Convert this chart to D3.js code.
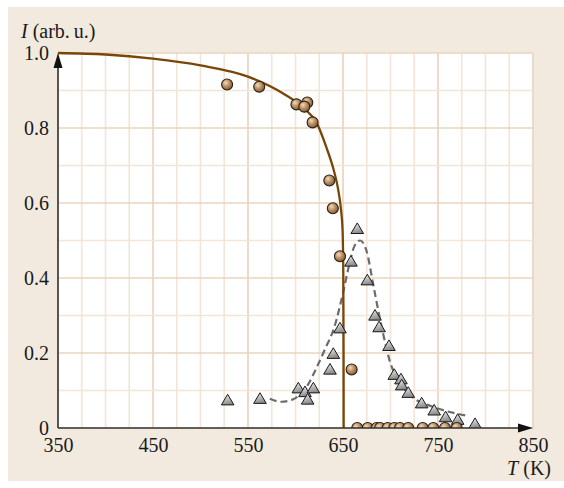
<!DOCTYPE html>
<html>
<head>
<meta charset="utf-8">
<script src="https://cdn.jsdelivr.net/npm/d3@7"></script>
<style>
  html, body { margin: 0; padding: 0; background: #ffffff; }
  svg { display: block; }
  .tick text { font-family: "Liberation Serif", "Times New Roman", serif; font-size: 20px; fill: #1a1a1a; }
</style>
</head>
<body>
<svg id="chart" width="564" height="488"></svg>
<script>
// Temperature ticks (K) and intensity ticks (arb. u.)
const xTicks = [350, 450, 550, 650, 750, 850];
const yTicks = [0, 0.2, 0.4, 0.6, 0.8, 1.0];
const xMinor = [350, 375, 400, 425, 450, 475, 500, 525, 550, 575, 600, 625, 650, 675, 700, 725, 750, 775, 800, 825, 850];
const yMinor = [0, 0.1, 0.2, 0.3, 0.4, 0.5, 0.6, 0.7, 0.8, 0.9, 1.0];

// Order-parameter data (circles)
const circleT = [528, 561.8, 601, 612.4, 609.3, 618, 635.6, 639.3, 646.8, 659.1,
                 665, 676, 685.5, 689, 697, 704, 710, 718.7, 733.9, 745, 757.4, 769.7];
const circleI = [0.916, 0.910, 0.863, 0.868, 0.857, 0.815, 0.660, 0.586, 0.458, 0.156,
                 0, 0, 0, 0, 0, 0, 0, 0, 0, 0, 0, 0];

// Fluctuation data (triangles)
const triT = [528.6, 562.6, 603, 610, 612.8, 618.8, 636.3, 639.8, 646.8, 658.4, 665, 675.6,
              683.7, 688, 698.4, 704, 711, 711.8, 718.7, 732.8, 746, 758, 770.7, 789];
const triI = [0.075, 0.079, 0.107, 0.097, 0.077, 0.107, 0.157, 0.199, 0.267, 0.445, 0.532, 0.395,
              0.301, 0.270, 0.220, 0.143, 0.131, 0.115, 0.095, 0.067, 0.048, 0.030, 0.023, 0.012];

// Solid fit curve (order parameter)
const fitT = [350, 400, 450, 500, 550, 587, 610, 622, 633, 640, 645, 648, 649.5, 650.3, 650.6, 650.7];
const fitI = [1.0, 0.996, 0.985, 0.967, 0.937, 0.892, 0.850, 0.815, 0.745, 0.690, 0.635, 0.580, 0.530, 0.420, 0.200, 0];

// Dashed guide curve (fluctuation peak)
const dashT = [573, 585, 596, 613, 622, 631, 641, 650, 657, 662, 668, 675, 682, 689, 696, 700, 707, 714, 724, 740, 759, 782];
const dashI = [0.078, 0.070, 0.075, 0.115, 0.160, 0.210, 0.270, 0.360, 0.440, 0.485, 0.500, 0.470,
               0.380, 0.290, 0.210, 0.172, 0.135, 0.106, 0.080, 0.061, 0.045, 0.032];

const svg = d3.select("#chart");
const x = d3.scaleLinear().domain([350, 850]).range([58, 533]);
const y = d3.scaleLinear().domain([0, 1]).range([428, 53]);

// Panel background
svg.append("rect").attr("x", 8).attr("y", 7).attr("width", 556).attr("height", 474).attr("fill", "#f2eadf");
// Plot area
svg.append("rect")
  .attr("x", x(350)).attr("y", y(1))
  .attr("width", x(850) - x(350)).attr("height", y(0) - y(1))
  .attr("fill", "#ffffff");

// Defs: clip + gradients
const defs = svg.append("defs");
defs.append("clipPath").attr("id", "plotClip").append("rect")
  .attr("x", x(350) - 10).attr("y", y(1) - 10)
  .attr("width", x(850) - x(350) + 20).attr("height", y(0) - y(1) + 10);

const rg = defs.append("radialGradient").attr("id", "ballGrad")
  .attr("cx", "38%").attr("cy", "35%").attr("r", "70%");
rg.append("stop").attr("offset", "0%").attr("stop-color", "#f0dcc0");
rg.append("stop").attr("offset", "45%").attr("stop-color", "#bf9466");
rg.append("stop").attr("offset", "100%").attr("stop-color", "#7c5430");

const lg = defs.append("linearGradient").attr("id", "triGrad")
  .attr("x1", "0%").attr("y1", "0%").attr("x2", "30%").attr("y2", "100%");
lg.append("stop").attr("offset", "0%").attr("stop-color", "#f6f6f6");
lg.append("stop").attr("offset", "100%").attr("stop-color", "#8c8c8c");

// Grid
const grid = svg.append("g");
grid.selectAll("line.vx").data(xMinor).join("line")
  .attr("x1", d => x(d)).attr("x2", d => x(d))
  .attr("y1", y(0)).attr("y2", y(1))
  .attr("stroke", d => xTicks.includes(d) ? "#e8d5bf" : "#f2e6d8")
  .attr("stroke-width", 1.7);
grid.selectAll("line.hy").data(yMinor).join("line")
  .attr("y1", d => y(d)).attr("y2", d => y(d))
  .attr("x1", x(350)).attr("x2", x(850))
  .attr("stroke", d => yTicks.some(t => Math.abs(t - d) < 1e-9) ? "#e8d5bf" : "#f2e6d8")
  .attr("stroke-width", 1.7);

// Curves
const dashLine = d3.line().x((d, i) => x(dashT[i])).y((d, i) => y(dashI[i])).curve(d3.curveMonotoneX);
svg.append("path").datum(dashT).attr("d", dashLine)
  .attr("fill", "none").attr("stroke", "#6b6b6b").attr("stroke-width", 2.2)
  .attr("stroke-dasharray", "7,4");

const fitLine = d3.line().x((d, i) => x(fitT[i])).y((d, i) => y(fitI[i])).curve(d3.curveMonotoneX);
svg.append("path").datum(fitT).attr("d", fitLine)
  .attr("fill", "none").attr("stroke", "#7a4608").attr("stroke-width", 2.3);

// Markers, clipped at the temperature axis
const marks = svg.append("g").attr("clip-path", "url(#plotClip)");
marks.selectAll("path.tri").data(triT).join("path")
  .attr("transform", (d, i) => `translate(${x(d)},${y(triI[i])})`)
  .attr("d", "M0,-5.6L6.3,5L-6.3,5Z")
  .attr("fill", "url(#triGrad)").attr("stroke", "#1a1a1a").attr("stroke-width", 1)
  .attr("stroke-linejoin", "miter");

marks.selectAll("circle").data(circleT).join("circle")
  .attr("cx", d => x(d)).attr("cy", (d, i) => y(circleI[i]))
  .attr("r", 5.5)
  .attr("fill", "url(#ballGrad)").attr("stroke", "#2b1f14").attr("stroke-width", 1.1);

// Axis lines with arrowheads
const axG = svg.append("g");
axG.append("line").attr("x1", x(350)).attr("x2", x(850) - 12).attr("y1", y(0)).attr("y2", y(0))
  .attr("stroke", "#333").attr("stroke-width", 1.6);
axG.append("line").attr("x1", x(350)).attr("x2", x(350)).attr("y1", y(0)).attr("y2", y(1) + 12)
  .attr("stroke", "#333").attr("stroke-width", 1.6);
axG.append("path")
  .attr("d", `M${x(850)},${y(0)}L${x(850) - 15},${y(0) - 4.5}L${x(850) - 15},${y(0) + 4.5}Z`)
  .attr("fill", "#111");
axG.append("path")
  .attr("d", `M${x(350)},${y(1)}L${x(350) - 4.5},${y(1) + 15}L${x(350) + 4.5},${y(1) + 15}Z`)
  .attr("fill", "#111");

// Tick labels
const xAxis = d3.axisBottom(x).tickValues(xTicks).tickSize(0).tickPadding(10).tickFormat(d3.format("d"));
svg.append("g").attr("transform", `translate(0,${y(0)})`).call(xAxis).call(g => g.select(".domain").remove());
const yAxis = d3.axisLeft(y).tickValues(yTicks).tickSize(0).tickPadding(9)
  .tickFormat(d => d === 0 ? "0" : d3.format(".1f")(d));
svg.append("g").attr("transform", `translate(${x(350)},0)`).call(yAxis).call(g => g.select(".domain").remove());

// Axis titles
const yTitle = svg.append("text").attr("x", 21).attr("y", 38)
  .attr("font-family", "Liberation Serif, serif").attr("font-size", 20).attr("fill", "#1a1a1a");
yTitle.append("tspan").attr("font-style", "italic").text("I");
yTitle.append("tspan").text(" (arb.\u2009u.)");

const xTitle = svg.append("text").attr("x", 551).attr("y", 475).attr("text-anchor", "end")
  .attr("font-family", "Liberation Serif, serif").attr("font-size", 20).attr("fill", "#1a1a1a");
xTitle.append("tspan").attr("font-style", "italic").text("T");
xTitle.append("tspan").text(" (K)");
</script>
</body>
</html>
